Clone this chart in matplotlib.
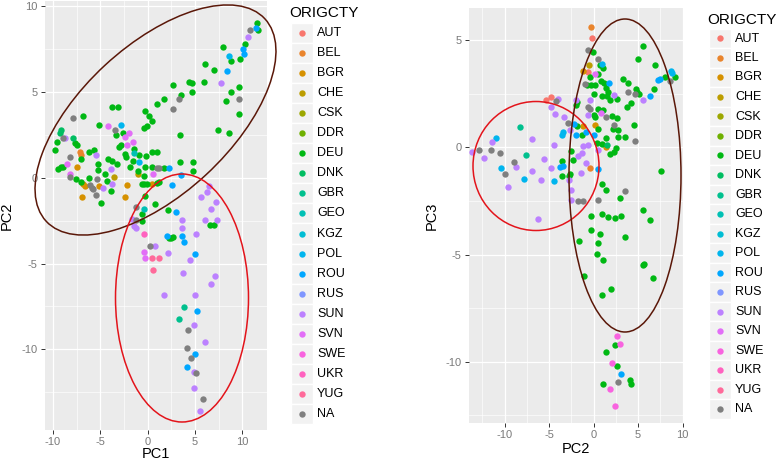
import math

import matplotlib
matplotlib.use("Agg")
import matplotlib.pyplot as plt
from matplotlib.patches import Ellipse, Rectangle

plt.rcParams["font.family"] = ["Liberation Sans", "DejaVu Sans"]
plt.rcParams["axes.unicode_minus"] = False

countries = ["AUT", "BEL", "BGR", "CHE", "CSK", "DDR", "DEU", "DNK", "GBR", "GEO",
             "KGZ", "POL", "ROU", "RUS", "SUN", "SVN", "SWE", "UKR", "YUG", "NA"]

# left panel: (PC1, PC2) per country
pc1_pc2 = {
    "BEL": [(-7.2, 1.5), (-7.1, 1.3)],
    "BGR": [(-7.5, 0.6), (-6.8, -0.35), (-6.6, -0.5), (-6.9, -1.1), (-5.1, -0.5),
            (-2.2, -0.4), (-2.4, -1.1), (0.4, -0.35)],
    "CHE": [(-3.6, 0.04), (-1.0, 0.2)],
    "DEU": [(11.5, 9.0), (11.6, 8.6), (10.3, 7.8), (9.7, 6.9), (7.9, 7.6), (8.8, 6.8),
            (6.0, 6.6), (7.0, 6.3), (5.9, 5.6), (9.6, 5.3), (8.8, 5.0), (8.3, 4.5),
            (9.6, 3.7), (7.4, 2.8), (8.6, 2.6), (4.4, 5.6), (4.7, 5.5), (4.7, 5.0),
            (2.7, 5.4), (3.5, 4.8), (1.7, 4.6), (1.0, 4.3), (3.4, 2.5), (-0.3, 3.9),
            (0.1, 3.6), (0.5, 3.3), (-0.1, 3.0), (-0.4, 2.9), (-3.8, 4.1), (-3.1, 4.1),
            (-2.6, 2.6), (-3.3, 2.5), (-3.0, 1.8), (-2.8, 1.9), (-5.1, 3.1), (-6.8, 3.6),
            (-9.6, 2.1), (-9.8, 1.6), (-7.7, 2.0), (-7.5, 1.9), (-7.1, 1.1), (-6.2, 1.5),
            (-5.7, 1.6), (-9.5, 0.5), (-9.2, 0.6), (-8.9, 0.6), (-7.6, -0.1), (-7.0, -0.25),
            (-6.2, 0.0), (-5.3, 0.8), (-5.2, 0.45), (-4.5, 0.2), (-4.3, -0.2), (-4.9, -1.5),
            (-3.9, -0.8), (-4.2, 1.1), (-3.8, 1.0), (-3.2, 0.8), (-2.3, 1.2), (-1.6, 1.0),
            (-1.5, 1.7), (-2.4, 1.4), (-0.9, 1.35), (-0.2, 1.25), (-1.9, 0.6), (-0.3, 0.6),
            (0.45, 0.6), (0.5, 1.5), (1.0, 1.5), (-1.0, 0.4), (-0.4, 0.1), (3.4, 0.9),
            (4.8, 0.9), (4.8, 0.4), (1.7, 0.55), (-0.6, -0.35), (-0.4, -0.35), (-0.1, -0.35),
            (1.0, -0.3), (1.2, -0.25), (-0.3, -1.05), (0.8, -1.55), (2.1, -1.9), (6.6, -2.75),
            (7.0, -2.75), (2.3, -3.5), (2.5, -3.5), (2.7, -3.45), (-0.6, -2.5), (-0.6, -2.1)],
    "DNK": [(-9.2, 2.8), (-9.3, 2.6), (-7.9, 2.3)],
    "GBR": [(3.8, -7.55), (3.3, -8.25)],
    "GEO": [(-1.5, 1.45), (-0.4, -1.85)],
    "POL": [(8.6, 7.1), (-2.8, 3.1), (-0.9, 0.9)],
    "ROU": [(11.4, 8.75), (10.1, 7.5), (10.2, 7.2), (8.4, 6.2), (2.2, 0.55), (2.6, -0.45),
            (3.5, 0.15), (3.0, -2.0), (2.0, -3.4), (3.6, -3.4), (3.8, -3.75), (5.0, -4.45),
            (5.2, -7.75), (5.0, -10.25), (4.1, -11.0)],
    "SUN": [(10.6, 8.2), (7.7, 5.5), (-8.7, 2.3), (-5.5, 1.3), (-4.7, -0.6), (-3.8, -0.35),
            (-3.9, 0.5), (5.6, -1.1), (6.3, -0.85), (6.5, -0.5), (7.2, -1.4), (6.7, -1.8),
            (6.1, -2.45), (7.3, -2.45), (3.6, -2.45), (3.6, -2.9), (5.1, -3.3), (-1.7, -2.4),
            (-1.5, -2.8), (-1.2, -2.9), (0.8, -4.0), (2.1, -4.4), (4.5, -4.8), (3.75, -5.55),
            (7.1, -5.75), (6.65, -6.2), (1.7, -6.85), (5.0, -6.85), (4.9, -8.6), (6.05, -9.6),
            (4.9, -11.3), (4.9, -12.25), (5.5, -13.6)],
    "SVN": [(-4.2, 3.0), (-2.0, 2.6), (-2.4, 2.4), (-1.6, 2.1), (-2.2, 1.9), (-8.5, 0.8),
            (-8.2, 0.2), (0.6, 0.2), (-0.35, -4.3), (-0.3, -4.7)],
    "UKR": [(-0.4, -3.3)],
    "YUG": [(0.45, -4.7), (1.2, -4.7), (0.6, -5.4)],
    "NA": [(10.8, 8.6), (9.6, 4.6), (3.3, 4.6), (2.7, 4.0), (-3.5, 2.8), (-7.9, 3.5),
           (-8.9, 2.3), (-8.2, 1.2), (-8.2, 0.06), (-6.1, -0.45), (-5.9, -0.6), (-5.75, -0.65),
           (-5.5, -1.0), (-5.4, -0.05), (1.0, 0.55), (1.2, 0.55), (-1.2, -1.7), (-1.2, -2.45),
           (0.2, -4.0), (4.25, -8.9), (4.2, -9.9), (4.6, -10.5), (5.1, -11.35), (5.85, -12.9)],
}

# right panel: (PC2, PC3) per country
pc2_pc3 = {
    "AUT": [(-0.2, 5.1), (-0.65, 3.5), (-5.4, 2.2), (-4.75, 2.35)],
    "BEL": [(-0.3, 5.6), (-0.4, -0.95)],
    "BGR": [(-1.15, 3.55), (-1.15, 1.0), (0.2, 1.05), (1.4, 0.0)],
    "CHE": [(-0.55, 3.85)],
    "DEU": [(-0.1, 4.45), (5.5, 4.75), (5.0, 4.1), (0.7, 3.85), (1.1, 3.7), (-0.45, 3.3),
            (0.5, 3.4), (6.9, 3.85), (3.3, 3.2), (3.9, 3.0), (0.8, 3.1), (1.2, 3.0),
            (-0.75, 2.9), (-0.3, 2.9), (0.2, 2.9), (1.35, 2.75), (1.65, 2.6), (4.8, 2.7),
            (4.9, 2.6), (5.1, 2.5), (6.75, 2.7), (9.1, 3.3), (8.0, 3.3), (0.0, 2.5),
            (1.0, 2.4), (1.5, 2.4), (1.85, 2.2), (2.6, 2.25), (4.2, 2.05), (3.8, 1.9),
            (-2.0, 2.0), (-1.85, 2.1), (0.45, 1.8), (0.85, 1.7), (1.1, 1.75), (0.0, 1.5),
            (0.2, 1.4), (2.05, 1.45), (2.6, 1.35), (-1.9, 1.0), (0.45, 0.85), (2.7, 0.8),
            (2.2, 0.85), (4.5, 1.05), (-1.25, 0.6), (1.45, 0.45), (2.8, 0.5), (3.55, 0.5),
            (0.95, 0.15), (0.4, 0.2), (-2.5, -0.15), (-3.55, -0.65), (-2.3, -0.6), (-2.7, -1.25),
            (-2.8, -1.35), (-3.6, -1.35), (1.85, -0.3), (2.3, -0.2), (2.5, -0.05), (7.6, -1.1),
            (0.9, -1.7), (1.45, -2.0), (3.0, -2.35), (5.6, -2.9), (-0.3, -3.2), (0.9, -3.1),
            (1.6, -3.25), (2.4, -3.3), (3.1, -3.2), (6.3, -3.4), (-0.25, -3.85), (0.7, -4.05),
            (-1.6, -4.35), (3.55, -4.2), (0.45, -4.45), (0.4, -4.95), (1.05, -5.25), (5.5, -5.5),
            (5.7, -5.45), (-1.1, -6.0), (6.65, -6.1), (2.0, -6.6), (0.9, -6.9), (2.45, -9.2),
            (1.45, -9.55), (2.6, -10.2), (4.1, -10.85), (4.15, -11.05), (1.1, -11.05)],
    "DNK": [(1.55, 0.1)],
    "GBR": [(-8.3, 0.95), (-7.6, -0.35)],
    "POL": [(0.9, 3.9), (8.7, 3.55), (8.8, 3.45), (-11.0, 0.45), (-10.35, -0.95), (-7.8, -1.45),
            (-4.5, -1.55), (-3.4, 0.7), (-3.5, 0.6)],
    "ROU": [(1.75, 3.0), (7.25, 3.15), (7.5, 3.2), (6.3, 2.4), (-2.25, 1.1), (-2.0, 0.6),
            (-0.85, 0.7), (0.1, 0.6), (-3.8, -0.9), (-3.4, -0.85), (0.55, -1.0), (3.1, -10.55)],
    "SUN": [(5.5, 2.2), (2.3, 2.45), (-4.05, 2.25), (-4.75, 1.9), (-2.0, 2.2), (-0.4, 2.2),
            (-0.6, 1.5), (-4.3, 1.55), (-3.35, 1.4), (-2.6, 0.8), (-4.45, 0.1), (-6.95, 0.4),
            (-11.4, 0.25), (-13.7, -0.2), (-12.35, -0.5), (-5.6, -0.55), (-8.7, -0.9), (-6.9, -1.1),
            (-4.8, -0.95), (-5.9, -1.5), (-9.65, -1.85), (-1.8, -0.4), (-1.35, -0.25), (-1.15, 0.05),
            (-0.6, 0.1), (-0.9, -0.75), (-1.4, -1.2), (-2.8, -1.5), (0.45, -0.1), (-2.5, -2.0),
            (-2.5, -2.45), (-6.25, -3.35)],
    "SVN": [(0.15, 3.4), (0.8, 1.6)],
    "SWE": [(2.6, -8.8), (3.0, -9.15), (2.05, -10.05), (1.85, -11.25), (2.4, -12.05)],
    "NA": [(-0.65, 4.55), (0.45, 4.1), (-0.95, 2.95), (3.9, 2.6), (4.6, 2.5), (8.6, 3.1),
           (-4.2, 2.15), (-0.65, 1.9), (-0.4, 1.8), (1.35, 1.4), (-2.9, 1.15), (2.25, 1.05),
           (4.65, 0.3), (-12.9, -0.1), (-11.5, -0.1), (-10.5, -0.25), (-8.95, -0.7),
           (-9.95, -1.25), (3.55, -2.05), (-1.75, -2.5), (-1.15, -2.5), (0.45, -2.45),
           (2.8, -10.95)],
}


def hcl_hex(h, c=100.0, l=65.0):
    # polar LUV -> sRGB, same as R's hcl()
    xn, yn, zn = 95.047, 100.0, 108.883
    u = c * math.cos(math.radians(h))
    v = c * math.sin(math.radians(h))
    y = yn * (((l + 16) / 116) ** 3 if l > 8 else l / 903.3)
    den = xn + 15 * yn + 3 * zn
    up = u / (13 * l) + 4 * xn / den
    vp = v / (13 * l) + 9 * yn / den
    x = 9.0 * y * up / (4 * vp)
    z = -x / 3 - 5 * y + 3 * y / vp
    x, y, z = x / 100, y / 100, z / 100
    rgb = [3.240479 * x - 1.537150 * y - 0.498535 * z,
           -0.969256 * x + 1.875992 * y + 0.041556 * z,
           0.055648 * x - 0.204043 * y + 1.057311 * z]
    out = []
    for ch in rgb:
        ch = 12.92 * ch if ch <= 0.0031308 else 1.055 * ch ** (1 / 2.4) - 0.055
        out.append(min(max(ch, 0.0), 1.0))
    return tuple(out)


n = len(countries) - 1
colors = {cty: hcl_hex(15 + i * 360.0 / n) for i, cty in enumerate(countries[:-1])}
colors["NA"] = "#7F7F7F"


def style_panel(ax, xlim, ylim, xticks, yticks, xminor, yminor, xlabel, ylabel):
    ax.set_facecolor("#EBEBEB")
    for s in ax.spines.values():
        s.set_visible(False)
    ax.set_xlim(*xlim)
    ax.set_ylim(*ylim)
    ax.set_xticks(xticks)
    ax.set_yticks(yticks)
    ax.set_xticklabels([str(t) for t in xticks])
    ax.set_yticklabels([str(t) for t in yticks])
    ax.set_xticks(xminor, minor=True)
    ax.set_yticks(yminor, minor=True)
    ax.grid(True, which="major", color="white", linewidth=0.9)
    ax.grid(True, which="minor", color="white", linewidth=0.45)
    ax.set_axisbelow(True)
    ax.tick_params(which="major", length=3, width=0.7, color="#333333",
                   labelcolor="#7A7A7A", labelsize=8, pad=2.2)
    ax.tick_params(which="minor", length=0)
    ax.set_xlabel(xlabel, fontsize=10.5, va="center")
    ax.set_ylabel(ylabel, fontsize=10.5, va="center")


W, H = 778, 461
fig = plt.figure(figsize=(W / 100, H / 100), dpi=100)


def px_axes(l, r, t, b):
    return fig.add_axes([l / W, 1 - b / H, (r - l) / W, (b - t) / H])


ax1 = px_axes(45, 267, 1, 430)
ax2 = px_axes(469, 683, 8, 423)

for cty in countries:
    if cty in pc1_pc2:
        xs, ys = zip(*pc1_pc2[cty])
        ax1.scatter(xs, ys, s=21, color=colors[cty], linewidths=0, zorder=3)
    if cty in pc2_pc3:
        xs, ys = zip(*pc2_pc3[cty])
        ax2.scatter(xs, ys, s=21, color=colors[cty], linewidths=0, zorder=3)

style_panel(ax1, (-10.85, 12.6), (-14.7, 10.3), [-10, -5, 0, 5, 10], [-10, -5, 0, 5, 10],
            [-7.5, -2.5, 2.5, 7.5], [-12.5, -7.5, -2.5, 2.5, 7.5], "PC1", "PC2")
style_panel(ax2, (-14.0, 10.05), (-12.85, 6.5), [-10, -5, 0, 5, 10], [-10, -5, 0, 5],
            [-12.5, -7.5, -2.5, 2.5, 7.5], [-12.5, -7.5, -2.5, 2.5], "PC2", "PC3")
# axis titles placed where the reference has them
ax1.xaxis.set_label_coords(0.5, -24 / 429)
ax1.yaxis.set_label_coords(-38 / 222, 0.5)
ax2.xaxis.set_label_coords(0.5, -26 / 415)
ax2.yaxis.set_label_coords(-37 / 214, 0.5)

# overlay in pixel coordinates for legends and hand-drawn ellipses
ov = fig.add_axes([0, 0, 1, 1], facecolor="none")
ov.set_xlim(0, W)
ov.set_ylim(H, 0)
ov.axis("off")


def draw_legend(x0, y_title, y_first, step, key_w):
    ov.text(x0 - 2, y_title, "ORIGCTY", fontsize=11, va="center", ha="left")
    for i, cty in enumerate(countries):
        yc = y_first + i * step
        ov.add_patch(Rectangle((x0, yc - step / 2), key_w, step, facecolor="#F2F2F2",
                               edgecolor="white", linewidth=1))
        ov.scatter([x0 + key_w / 2], [yc], s=21, color=colors[cty], linewidths=0)
        ov.text(x0 + key_w + 4, yc, cty, fontsize=9, va="center", ha="left")


draw_legend(291, 13, 33, 20.05, 22)
draw_legend(709, 20, 38.5, 19.5, 22)

brown = "#5A1708"
red = "#E3141B"
ov.add_patch(Ellipse((155.5, 120), 298, 149, angle=-42.8, fill=False, edgecolor=brown, linewidth=1.1))
ov.add_patch(Ellipse((182, 298), 133, 248, fill=False, edgecolor=red, linewidth=1.1))
ov.add_patch(Ellipse((536, 166), 126, 129, fill=False, edgecolor=red, linewidth=1.1))
ov.add_patch(Ellipse((625, 175.5), 112, 313, fill=False, edgecolor=brown, linewidth=1.1))

fig.savefig("out.png", dpi=100)
